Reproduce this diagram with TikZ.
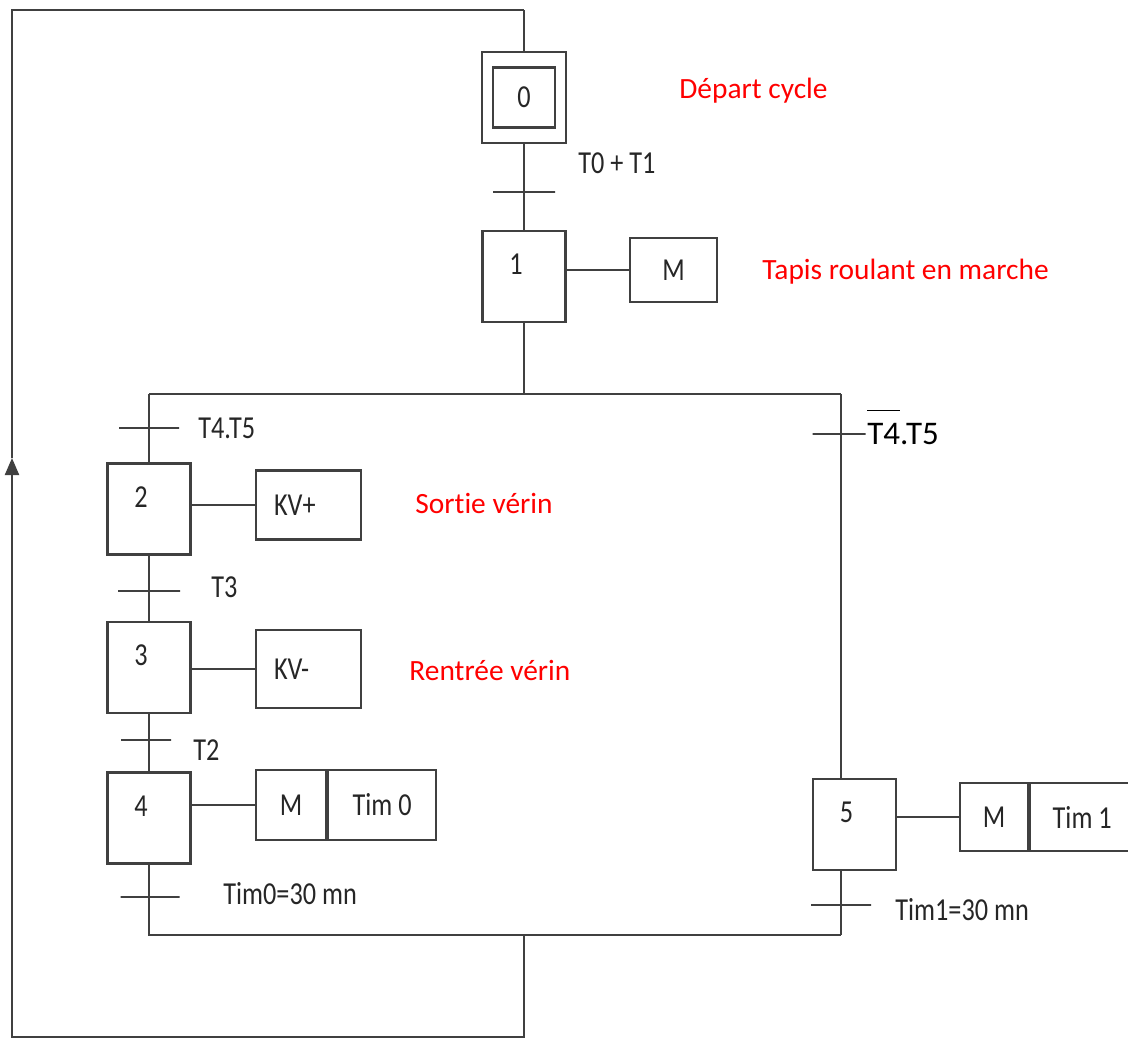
\documentclass[tikz,border=0pt]{standalone}
\usepackage{fontspec}
\setmainfont[Ligatures=NoCommon]{Carlito}
\newfontfamily\grafcetfont[FakeStretch=0.82]{Carlito}
\usetikzlibrary{positioning,arrows.meta}

\begin{document}
\begin{tikzpicture}[
  x=0.5pt, y=-0.5pt,
  wire/.style={draw=black!75, line width=1.1pt},
  stepbox/.style={draw=black!75, line width=1.1pt, minimum width=41.5pt, minimum height=45.5pt, inner sep=0pt, label={[steplabel]center:#1}},
  steplabel/.style={font=\grafcetfont\fontsize{16}{18}\selectfont, text=black!85, xshift=-4pt, yshift=6pt},
  innerbox/.style={draw=black!75, line width=1.1pt, minimum width=31pt, minimum height=30pt, inner sep=0pt, font=\grafcetfont\fontsize{16}{18}\selectfont, text=black!85},
  actbox/.style={draw=black!75, line width=1.1pt, inner sep=0pt, font=\grafcetfont\fontsize{16}{18}\selectfont, text=black!85},
  kvbox/.style={actbox, minimum width=52.5pt, inner xsep=9pt, text width=34.5pt, align=left},
  trans/.style={draw=black!75, line width=1.1pt, minimum width=#1, minimum height=0pt, inner sep=0pt, outer sep=0pt},
  cond/.style={font=\grafcetfont\fontsize{16}{18}\selectfont, text=black!85, anchor=base west, inner sep=0pt},
  note/.style={font=\fontsize{14.7}{17}\selectfont, text=red, anchor=base west, inner sep=0pt}
]
\useasboundingbox (0,0) rectangle (1128,1039);
\clip (0,0) rectangle (1128,1039);

% steps
\node[draw=black!75, line width=1.1pt, minimum width=42pt, minimum height=45.5pt, inner sep=0pt] (s0) at (524,97.5) {};
\node[innerbox] (s0in) at (s0.center) {0};
\node[stepbox=1] (s1) at (524,276.5) {};
\node[stepbox=2] (s2) at (149,509) {};
\node[stepbox=3] (s3) at (149,667.5) {};
\node[stepbox=4] (s4) at (149,818) {};
\node[stepbox=5] (s5) at (854.5,824.5) {};

% actions
\node[actbox, minimum width=43.5pt, minimum height=32pt] (a1) at (673.5,270) {M};
\node[kvbox, minimum height=34.5pt] (a2) at (308.5,505) {KV+};
\node[kvbox, minimum height=39pt] (a3) at (308.5,669) {KV-};
\node[actbox, minimum width=35pt, minimum height=35pt] (a4m) at (291,805) {M};
\node[actbox, minimum width=54pt, minimum height=35pt, right=0pt of a4m] (a4t) {Tim 0};
\node[actbox, minimum width=34pt, minimum height=34pt] (a5m) at (994,817) {M};
\node[actbox, minimum width=52pt, minimum height=34pt, right=0pt of a5m] (a5t) {Tim 1};

\foreach \s in {1,2,3}
  \draw[wire] (s\s.east |- a\s.west) -- (a\s.west);
\draw[wire] (s4.east |- a4m.west) -- (a4m.west);
\draw[wire] (s5.east |- a5m.west) -- (a5m.west);

% links
\coordinate (divL) at (149,394);
\coordinate (divM) at (524,394);
\coordinate (divR) at (841,394);
\coordinate (convL) at (149,935);
\coordinate (convM) at (524,935);
\coordinate (convR) at (841,935);
\coordinate (loopB) at (524,1037);
\coordinate (loopL) at (12,1037);
\coordinate (ret) at (12,458);
\coordinate (loopT) at (12,10);
\coordinate (top) at (524,10);

\draw[wire] (top) -- (s0.north);
\draw[wire] (s0.south) -- (s1.north);
\draw[wire] (s1.south) -- (divM);
\draw[wire] (divL) -- (divR);
\draw[wire] (divL) -- (s2.north);
\draw[wire] (s2.south) -- (s3.north);
\draw[wire] (s3.south) -- (s4.north);
\draw[wire] (s4.south) -- (convL) -- (convR);
\draw[wire] (divR) -- (divR |- s5.north);
\draw[wire] (convR |- s5.south) -- (convR);
\draw[wire, -{Triangle[length=8.5pt,width=7pt]}] (convM) -- (loopB) -- (loopL) -- (ret);
\draw[wire] (ret) -- (loopT) -- (top);

% transitions
\node[trans=31pt] (t01) at (524,192) {};
\node[trans=30pt] (t12) at (149,428) {};
\node[trans=31pt] (t23) at (149,591) {};
\node[trans=25pt] (t34) at (146,740) {};
\node[trans=29.5pt] (t40) at (150,897) {};
\node[trans=26.5pt] (t15) at (839,434) {};
\node[trans=30pt] (t50) at (841,905) {};

\node[cond] (c01) at (578,173) {T0 + T1};
\node[cond] (c12) at (198,438) {T4.T5};
\node[cond] (c23) at (211,597) {T3};
\node[cond] (c34) at (193,760) {T2};
\node[cond] (c40) at (223,904) {Tim0=30 mn};
\node[cond, font=\fontsize{16.5}{18}\selectfont, text=black] (c15) at (867,444)
  {\smash{\rlap{\rule[16.5pt]{16.5pt}{0.7pt}}}T4.T5};
\node[cond] (c50) at (895,920) {Tim1=30 mn};

% comments in red
\node[note] (n0) at (679,98) {Départ cycle};
\node[note] (n1) at (762,279) {Tapis roulant en marche};
\node[note] (n2) at (415,513) {Sortie vérin};
\node[note] (n3) at (409,680) {Rentrée vérin};
\end{tikzpicture}
\end{document}
